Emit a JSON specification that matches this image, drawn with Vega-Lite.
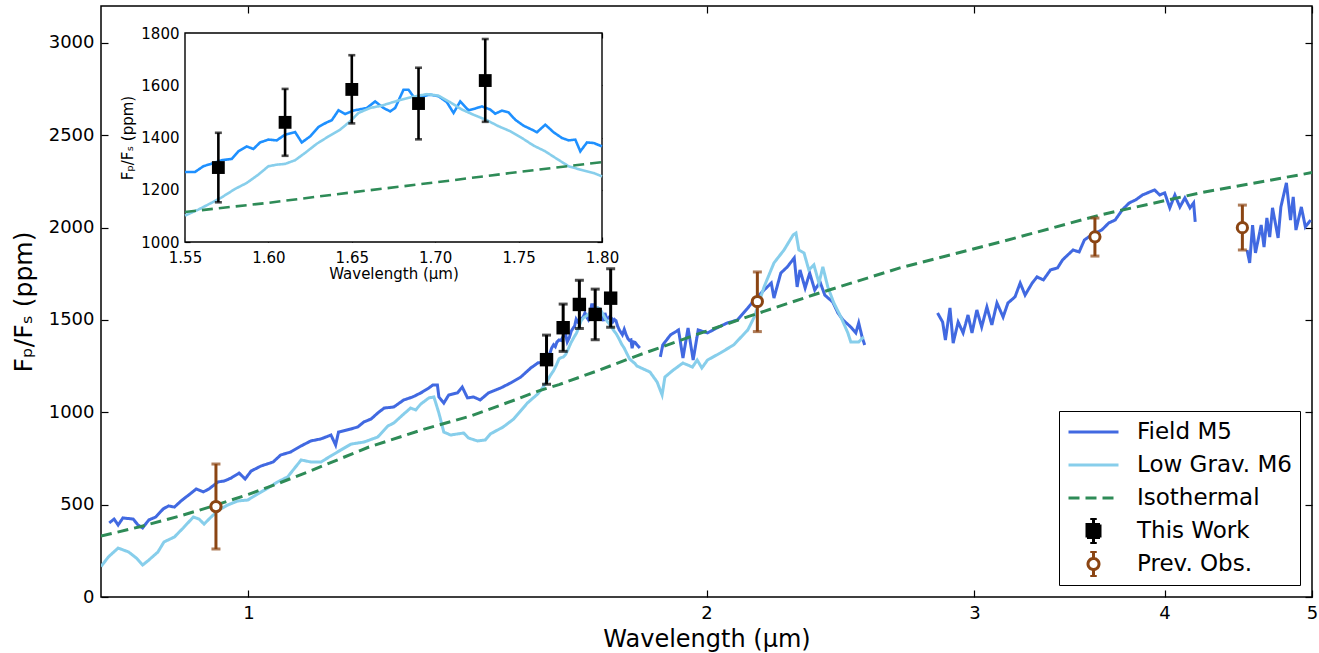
{
  "$schema": "https://vega.github.io/schema/vega-lite/v6.json",
  "width": 1211,
  "height": 591,
  "autosize": {"type": "none"},
  "padding": {"left": 101, "top": 6, "right": 7, "bottom": 56},
  "background": "white",
  "datasets": {
    "models": [
      {"series":"Field M5","seg":"f1","wl":0.810,"fp":401},{"series":"Field M5","seg":"f1","wl":0.816,"fp":422},{"series":"Field M5","seg":"f1","wl":0.821,"fp":390},{"series":"Field M5","seg":"f1","wl":0.827,"fp":428},{"series":"Field M5","seg":"f1","wl":0.840,"fp":422},{"series":"Field M5","seg":"f1","wl":0.846,"fp":390},{"series":"Field M5","seg":"f1","wl":0.852,"fp":374},{"series":"Field M5","seg":"f1","wl":0.860,"fp":417},{"series":"Field M5","seg":"f1","wl":0.869,"fp":433},{"series":"Field M5","seg":"f1","wl":0.879,"fp":477},{"series":"Field M5","seg":"f1","wl":0.886,"fp":493},{"series":"Field M5","seg":"f1","wl":0.894,"fp":487},{"series":"Field M5","seg":"f1","wl":0.903,"fp":520},{"series":"Field M5","seg":"f1","wl":0.917,"fp":563},{"series":"Field M5","seg":"f1","wl":0.924,"fp":585},{"series":"Field M5","seg":"f1","wl":0.934,"fp":569},{"series":"Field M5","seg":"f1","wl":0.942,"fp":585},{"series":"Field M5","seg":"f1","wl":0.955,"fp":623},{"series":"Field M5","seg":"f1","wl":0.964,"fp":628},{"series":"Field M5","seg":"f1","wl":0.974,"fp":644},{"series":"Field M5","seg":"f1","wl":0.986,"fp":671},{"series":"Field M5","seg":"f1","wl":0.995,"fp":639},{"series":"Field M5","seg":"f1","wl":1.004,"fp":682},{"series":"Field M5","seg":"f1","wl":1.019,"fp":709},{"series":"Field M5","seg":"f1","wl":1.038,"fp":731},{"series":"Field M5","seg":"f1","wl":1.050,"fp":769},{"series":"Field M5","seg":"f1","wl":1.066,"fp":785},{"series":"Field M5","seg":"f1","wl":1.083,"fp":818},{"series":"Field M5","seg":"f1","wl":1.099,"fp":845},{"series":"Field M5","seg":"f1","wl":1.116,"fp":856},{"series":"Field M5","seg":"f1","wl":1.133,"fp":877},{"series":"Field M5","seg":"f1","wl":1.141,"fp":823},{"series":"Field M5","seg":"f1","wl":1.146,"fp":893},{"series":"Field M5","seg":"f1","wl":1.168,"fp":910},{"series":"Field M5","seg":"f1","wl":1.180,"fp":921},{"series":"Field M5","seg":"f1","wl":1.191,"fp":948},{"series":"Field M5","seg":"f1","wl":1.204,"fp":964},{"series":"Field M5","seg":"f1","wl":1.216,"fp":996},{"series":"Field M5","seg":"f1","wl":1.228,"fp":1023},{"series":"Field M5","seg":"f1","wl":1.246,"fp":1029},{"series":"Field M5","seg":"f1","wl":1.265,"fp":1067},{"series":"Field M5","seg":"f1","wl":1.282,"fp":1083},{"series":"Field M5","seg":"f1","wl":1.298,"fp":1105},{"series":"Field M5","seg":"f1","wl":1.314,"fp":1132},{"series":"Field M5","seg":"f1","wl":1.322,"fp":1148},{"series":"Field M5","seg":"f1","wl":1.331,"fp":1148},{"series":"Field M5","seg":"f1","wl":1.334,"fp":1083},{"series":"Field M5","seg":"f1","wl":1.344,"fp":1050},{"series":"Field M5","seg":"f1","wl":1.354,"fp":1094},{"series":"Field M5","seg":"f1","wl":1.372,"fp":1105},{"series":"Field M5","seg":"f1","wl":1.382,"fp":1137},{"series":"Field M5","seg":"f1","wl":1.393,"fp":1078},{"series":"Field M5","seg":"f1","wl":1.406,"fp":1083},{"series":"Field M5","seg":"f1","wl":1.420,"fp":1067},{"series":"Field M5","seg":"f1","wl":1.438,"fp":1105},{"series":"Field M5","seg":"f1","wl":1.465,"fp":1132},{"series":"Field M5","seg":"f1","wl":1.487,"fp":1159},{"series":"Field M5","seg":"f1","wl":1.510,"fp":1191},{"series":"Field M5","seg":"f1","wl":1.533,"fp":1240},
      {"series":"Field M5","seg":"f1","wl":1.550,"fp":1268},{"series":"Field M5","seg":"f1","wl":1.556,"fp":1268},{"series":"Field M5","seg":"f1","wl":1.561,"fp":1290},{"series":"Field M5","seg":"f1","wl":1.567,"fp":1302},{"series":"Field M5","seg":"f1","wl":1.572,"fp":1313},{"series":"Field M5","seg":"f1","wl":1.578,"fp":1318},{"series":"Field M5","seg":"f1","wl":1.582,"fp":1347},{"series":"Field M5","seg":"f1","wl":1.587,"fp":1366},{"series":"Field M5","seg":"f1","wl":1.591,"fp":1356},{"series":"Field M5","seg":"f1","wl":1.595,"fp":1381},{"series":"Field M5","seg":"f1","wl":1.600,"fp":1392},{"series":"Field M5","seg":"f1","wl":1.605,"fp":1389},{"series":"Field M5","seg":"f1","wl":1.610,"fp":1411},{"series":"Field M5","seg":"f1","wl":1.616,"fp":1421},{"series":"Field M5","seg":"f1","wl":1.620,"fp":1381},{"series":"Field M5","seg":"f1","wl":1.625,"fp":1404},{"series":"Field M5","seg":"f1","wl":1.630,"fp":1440},{"series":"Field M5","seg":"f1","wl":1.635,"fp":1458},{"series":"Field M5","seg":"f1","wl":1.638,"fp":1466},{"series":"Field M5","seg":"f1","wl":1.642,"fp":1504},{"series":"Field M5","seg":"f1","wl":1.646,"fp":1490},{"series":"Field M5","seg":"f1","wl":1.651,"fp":1503},{"series":"Field M5","seg":"f1","wl":1.659,"fp":1513},{"series":"Field M5","seg":"f1","wl":1.664,"fp":1538},{"series":"Field M5","seg":"f1","wl":1.669,"fp":1513},{"series":"Field M5","seg":"f1","wl":1.673,"fp":1500},{"series":"Field M5","seg":"f1","wl":1.676,"fp":1513},{"series":"Field M5","seg":"f1","wl":1.681,"fp":1583},{"series":"Field M5","seg":"f1","wl":1.684,"fp":1583},{"series":"Field M5","seg":"f1","wl":1.688,"fp":1547},{"series":"Field M5","seg":"f1","wl":1.693,"fp":1558},{"series":"Field M5","seg":"f1","wl":1.697,"fp":1564},{"series":"Field M5","seg":"f1","wl":1.702,"fp":1558},{"series":"Field M5","seg":"f1","wl":1.707,"fp":1535},{"series":"Field M5","seg":"f1","wl":1.711,"fp":1494},{"series":"Field M5","seg":"f1","wl":1.715,"fp":1538},{"series":"Field M5","seg":"f1","wl":1.720,"fp":1504},{"series":"Field M5","seg":"f1","wl":1.725,"fp":1513},{"series":"Field M5","seg":"f1","wl":1.728,"fp":1519},{"series":"Field M5","seg":"f1","wl":1.733,"fp":1507},{"series":"Field M5","seg":"f1","wl":1.736,"fp":1491},{"series":"Field M5","seg":"f1","wl":1.740,"fp":1503},{"series":"Field M5","seg":"f1","wl":1.744,"fp":1496},{"series":"Field M5","seg":"f1","wl":1.748,"fp":1468},{"series":"Field M5","seg":"f1","wl":1.753,"fp":1445},{"series":"Field M5","seg":"f1","wl":1.758,"fp":1430},{"series":"Field M5","seg":"f1","wl":1.761,"fp":1420},{"series":"Field M5","seg":"f1","wl":1.766,"fp":1449},{"series":"Field M5","seg":"f1","wl":1.771,"fp":1420},{"series":"Field M5","seg":"f1","wl":1.776,"fp":1398},{"series":"Field M5","seg":"f1","wl":1.780,"fp":1389},{"series":"Field M5","seg":"f1","wl":1.784,"fp":1392},{"series":"Field M5","seg":"f1","wl":1.787,"fp":1347},{"series":"Field M5","seg":"f1","wl":1.791,"fp":1381},{"series":"Field M5","seg":"f1","wl":1.795,"fp":1379},{"series":"Field M5","seg":"f1","wl":1.800,"fp":1366},{"series":"Field M5","seg":"f1","wl":1.808,"fp":1348},
      {"series":"Field M5","seg":"f2","wl":1.865,"fp":1300},{"series":"Field M5","seg":"f2","wl":1.872,"fp":1365},{"series":"Field M5","seg":"f2","wl":1.894,"fp":1419},{"series":"Field M5","seg":"f2","wl":1.917,"fp":1446},{"series":"Field M5","seg":"f2","wl":1.930,"fp":1294},{"series":"Field M5","seg":"f2","wl":1.945,"fp":1457},{"series":"Field M5","seg":"f2","wl":1.960,"fp":1283},{"series":"Field M5","seg":"f2","wl":1.975,"fp":1446},{"series":"Field M5","seg":"f2","wl":2.003,"fp":1430},{"series":"Field M5","seg":"f2","wl":2.032,"fp":1457},{"series":"Field M5","seg":"f2","wl":2.064,"fp":1484},{"series":"Field M5","seg":"f2","wl":2.096,"fp":1500},{"series":"Field M5","seg":"f2","wl":2.129,"fp":1565},{"series":"Field M5","seg":"f2","wl":2.150,"fp":1608},{"series":"Field M5","seg":"f2","wl":2.182,"fp":1662},{"series":"Field M5","seg":"f2","wl":2.206,"fp":1700},{"series":"Field M5","seg":"f2","wl":2.215,"fp":1619},{"series":"Field M5","seg":"f2","wl":2.238,"fp":1754},{"series":"Field M5","seg":"f2","wl":2.260,"fp":1787},{"series":"Field M5","seg":"f2","wl":2.284,"fp":1836},{"series":"Field M5","seg":"f2","wl":2.294,"fp":1679},{"series":"Field M5","seg":"f2","wl":2.304,"fp":1771},{"series":"Field M5","seg":"f2","wl":2.322,"fp":1673},{"series":"Field M5","seg":"f2","wl":2.338,"fp":1754},{"series":"Field M5","seg":"f2","wl":2.356,"fp":1662},{"series":"Field M5","seg":"f2","wl":2.375,"fp":1706},{"series":"Field M5","seg":"f2","wl":2.392,"fp":1635},{"series":"Field M5","seg":"f2","wl":2.421,"fp":1597},{"series":"Field M5","seg":"f2","wl":2.440,"fp":1538},{"series":"Field M5","seg":"f2","wl":2.459,"fp":1500},{"series":"Field M5","seg":"f2","wl":2.488,"fp":1462},{"series":"Field M5","seg":"f2","wl":2.507,"fp":1430},{"series":"Field M5","seg":"f2","wl":2.518,"fp":1484},{"series":"Field M5","seg":"f2","wl":2.532,"fp":1402},{"series":"Field M5","seg":"f2","wl":2.541,"fp":1365},
      {"series":"Field M5","seg":"f3","wl":2.837,"fp":1538},{"series":"Field M5","seg":"f3","wl":2.859,"fp":1489},{"series":"Field M5","seg":"f3","wl":2.871,"fp":1392},{"series":"Field M5","seg":"f3","wl":2.891,"fp":1565},{"series":"Field M5","seg":"f3","wl":2.905,"fp":1375},{"series":"Field M5","seg":"f3","wl":2.927,"fp":1489},{"series":"Field M5","seg":"f3","wl":2.949,"fp":1430},{"series":"Field M5","seg":"f3","wl":2.971,"fp":1527},{"series":"Field M5","seg":"f3","wl":2.989,"fp":1430},{"series":"Field M5","seg":"f3","wl":3.011,"fp":1554},{"series":"Field M5","seg":"f3","wl":3.033,"fp":1462},{"series":"Field M5","seg":"f3","wl":3.057,"fp":1570},{"series":"Field M5","seg":"f3","wl":3.080,"fp":1473},{"series":"Field M5","seg":"f3","wl":3.104,"fp":1592},{"series":"Field M5","seg":"f3","wl":3.133,"fp":1516},{"series":"Field M5","seg":"f3","wl":3.156,"fp":1592},{"series":"Field M5","seg":"f3","wl":3.190,"fp":1625},{"series":"Field M5","seg":"f3","wl":3.215,"fp":1700},{"series":"Field M5","seg":"f3","wl":3.239,"fp":1635},{"series":"Field M5","seg":"f3","wl":3.274,"fp":1700},{"series":"Field M5","seg":"f3","wl":3.298,"fp":1733},{"series":"Field M5","seg":"f3","wl":3.330,"fp":1717},{"series":"Field M5","seg":"f3","wl":3.366,"fp":1771},{"series":"Field M5","seg":"f3","wl":3.402,"fp":1782},{"series":"Field M5","seg":"f3","wl":3.428,"fp":1825},{"series":"Field M5","seg":"f3","wl":3.455,"fp":1852},{"series":"Field M5","seg":"f3","wl":3.483,"fp":1879},{"series":"Field M5","seg":"f3","wl":3.515,"fp":1868},{"series":"Field M5","seg":"f3","wl":3.543,"fp":1933},{"series":"Field M5","seg":"f3","wl":3.581,"fp":1960},{"series":"Field M5","seg":"f3","wl":3.637,"fp":1987},{"series":"Field M5","seg":"f3","wl":3.676,"fp":2025},{"series":"Field M5","seg":"f3","wl":3.712,"fp":2041},{"series":"Field M5","seg":"f3","wl":3.752,"fp":2096},{"series":"Field M5","seg":"f3","wl":3.792,"fp":2134},{"series":"Field M5","seg":"f3","wl":3.829,"fp":2150},{"series":"Field M5","seg":"f3","wl":3.869,"fp":2177},{"series":"Field M5","seg":"f3","wl":3.911,"fp":2193},{"series":"Field M5","seg":"f3","wl":3.940,"fp":2204},{"series":"Field M5","seg":"f3","wl":3.971,"fp":2177},{"series":"Field M5","seg":"f3","wl":4.001,"fp":2188},{"series":"Field M5","seg":"f3","wl":4.032,"fp":2107},{"series":"Field M5","seg":"f3","wl":4.063,"fp":2177},{"series":"Field M5","seg":"f3","wl":4.094,"fp":2112},{"series":"Field M5","seg":"f3","wl":4.125,"fp":2161},{"series":"Field M5","seg":"f3","wl":4.157,"fp":2107},{"series":"Field M5","seg":"f3","wl":4.180,"fp":2134},{"series":"Field M5","seg":"f3","wl":4.190,"fp":2031},
      {"series":"Field M5","seg":"f4","wl":4.532,"fp":1879},{"series":"Field M5","seg":"f4","wl":4.550,"fp":1809},{"series":"Field M5","seg":"f4","wl":4.570,"fp":2014},{"series":"Field M5","seg":"f4","wl":4.590,"fp":1863},{"series":"Field M5","seg":"f4","wl":4.630,"fp":2014},{"series":"Field M5","seg":"f4","wl":4.650,"fp":1895},{"series":"Field M5","seg":"f4","wl":4.670,"fp":2052},{"series":"Field M5","seg":"f4","wl":4.690,"fp":1949},{"series":"Field M5","seg":"f4","wl":4.710,"fp":2107},{"series":"Field M5","seg":"f4","wl":4.750,"fp":1944},{"series":"Field M5","seg":"f4","wl":4.770,"fp":2112},{"series":"Field M5","seg":"f4","wl":4.810,"fp":2242},{"series":"Field M5","seg":"f4","wl":4.840,"fp":2041},{"series":"Field M5","seg":"f4","wl":4.860,"fp":2166},{"series":"Field M5","seg":"f4","wl":4.880,"fp":1987},{"series":"Field M5","seg":"f4","wl":4.920,"fp":2112},{"series":"Field M5","seg":"f4","wl":4.950,"fp":2004},{"series":"Field M5","seg":"f4","wl":4.990,"fp":2041},
      {"series":"Low Grav. M6","seg":"lg","wl":0.800,"fp":165},{"series":"Low Grav. M6","seg":"lg","wl":0.809,"fp":217},{"series":"Low Grav. M6","seg":"lg","wl":0.821,"fp":265},{"series":"Low Grav. M6","seg":"lg","wl":0.834,"fp":244},{"series":"Low Grav. M6","seg":"lg","wl":0.844,"fp":211},{"series":"Low Grav. M6","seg":"lg","wl":0.852,"fp":173},{"series":"Low Grav. M6","seg":"lg","wl":0.860,"fp":200},{"series":"Low Grav. M6","seg":"lg","wl":0.872,"fp":244},{"series":"Low Grav. M6","seg":"lg","wl":0.880,"fp":298},{"series":"Low Grav. M6","seg":"lg","wl":0.894,"fp":325},{"series":"Low Grav. M6","seg":"lg","wl":0.906,"fp":374},{"series":"Low Grav. M6","seg":"lg","wl":0.920,"fp":433},{"series":"Low Grav. M6","seg":"lg","wl":0.928,"fp":422},{"series":"Low Grav. M6","seg":"lg","wl":0.935,"fp":395},{"series":"Low Grav. M6","seg":"lg","wl":0.945,"fp":433},{"series":"Low Grav. M6","seg":"lg","wl":0.956,"fp":471},{"series":"Low Grav. M6","seg":"lg","wl":0.969,"fp":498},{"series":"Low Grav. M6","seg":"lg","wl":0.984,"fp":520},{"series":"Low Grav. M6","seg":"lg","wl":0.999,"fp":525},{"series":"Low Grav. M6","seg":"lg","wl":1.014,"fp":558},{"series":"Low Grav. M6","seg":"lg","wl":1.030,"fp":590},{"series":"Low Grav. M6","seg":"lg","wl":1.045,"fp":623},{"series":"Low Grav. M6","seg":"lg","wl":1.061,"fp":650},{"series":"Low Grav. M6","seg":"lg","wl":1.083,"fp":742},{"series":"Low Grav. M6","seg":"lg","wl":1.099,"fp":731},{"series":"Low Grav. M6","seg":"lg","wl":1.116,"fp":731},{"series":"Low Grav. M6","seg":"lg","wl":1.133,"fp":764},{"series":"Low Grav. M6","seg":"lg","wl":1.150,"fp":796},{"series":"Low Grav. M6","seg":"lg","wl":1.168,"fp":828},{"series":"Low Grav. M6","seg":"lg","wl":1.191,"fp":839},{"series":"Low Grav. M6","seg":"lg","wl":1.216,"fp":866},{"series":"Low Grav. M6","seg":"lg","wl":1.235,"fp":926},{"series":"Low Grav. M6","seg":"lg","wl":1.246,"fp":942},{"series":"Low Grav. M6","seg":"lg","wl":1.263,"fp":986},{"series":"Low Grav. M6","seg":"lg","wl":1.278,"fp":1023},{"series":"Low Grav. M6","seg":"lg","wl":1.288,"fp":1013},{"series":"Low Grav. M6","seg":"lg","wl":1.298,"fp":1045},{"series":"Low Grav. M6","seg":"lg","wl":1.314,"fp":1078},{"series":"Low Grav. M6","seg":"lg","wl":1.324,"fp":1083},{"series":"Low Grav. M6","seg":"lg","wl":1.334,"fp":996},{"series":"Low Grav. M6","seg":"lg","wl":1.344,"fp":893},{"series":"Low Grav. M6","seg":"lg","wl":1.358,"fp":877},{"series":"Low Grav. M6","seg":"lg","wl":1.372,"fp":883},{"series":"Low Grav. M6","seg":"lg","wl":1.385,"fp":888},{"series":"Low Grav. M6","seg":"lg","wl":1.395,"fp":861},{"series":"Low Grav. M6","seg":"lg","wl":1.414,"fp":845},{"series":"Low Grav. M6","seg":"lg","wl":1.431,"fp":850},{"series":"Low Grav. M6","seg":"lg","wl":1.442,"fp":883},{"series":"Low Grav. M6","seg":"lg","wl":1.470,"fp":920},{"series":"Low Grav. M6","seg":"lg","wl":1.494,"fp":964},{"series":"Low Grav. M6","seg":"lg","wl":1.525,"fp":1050},
      {"series":"Low Grav. M6","seg":"lg","wl":1.550,"fp":1101},{"series":"Low Grav. M6","seg":"lg","wl":1.558,"fp":1124},{"series":"Low Grav. M6","seg":"lg","wl":1.565,"fp":1147},{"series":"Low Grav. M6","seg":"lg","wl":1.572,"fp":1171},{"series":"Low Grav. M6","seg":"lg","wl":1.580,"fp":1203},{"series":"Low Grav. M6","seg":"lg","wl":1.587,"fp":1226},{"series":"Low Grav. M6","seg":"lg","wl":1.594,"fp":1258},{"series":"Low Grav. M6","seg":"lg","wl":1.600,"fp":1290},{"series":"Low Grav. M6","seg":"lg","wl":1.605,"fp":1296},{"series":"Low Grav. M6","seg":"lg","wl":1.610,"fp":1299},{"series":"Low Grav. M6","seg":"lg","wl":1.616,"fp":1313},{"series":"Low Grav. M6","seg":"lg","wl":1.622,"fp":1341},{"series":"Low Grav. M6","seg":"lg","wl":1.629,"fp":1376},{"series":"Low Grav. M6","seg":"lg","wl":1.636,"fp":1404},{"series":"Low Grav. M6","seg":"lg","wl":1.643,"fp":1430},{"series":"Low Grav. M6","seg":"lg","wl":1.649,"fp":1462},{"series":"Low Grav. M6","seg":"lg","wl":1.654,"fp":1494},{"series":"Low Grav. M6","seg":"lg","wl":1.661,"fp":1513},{"series":"Low Grav. M6","seg":"lg","wl":1.668,"fp":1522},{"series":"Low Grav. M6","seg":"lg","wl":1.676,"fp":1538},{"series":"Low Grav. M6","seg":"lg","wl":1.686,"fp":1555},{"series":"Low Grav. M6","seg":"lg","wl":1.695,"fp":1566},{"series":"Low Grav. M6","seg":"lg","wl":1.702,"fp":1560},{"series":"Low Grav. M6","seg":"lg","wl":1.709,"fp":1535},{"series":"Low Grav. M6","seg":"lg","wl":1.716,"fp":1507},{"series":"Low Grav. M6","seg":"lg","wl":1.723,"fp":1487},{"series":"Low Grav. M6","seg":"lg","wl":1.731,"fp":1466},{"series":"Low Grav. M6","seg":"lg","wl":1.738,"fp":1443},{"series":"Low Grav. M6","seg":"lg","wl":1.745,"fp":1424},{"series":"Low Grav. M6","seg":"lg","wl":1.752,"fp":1398},{"series":"Low Grav. M6","seg":"lg","wl":1.759,"fp":1369},{"series":"Low Grav. M6","seg":"lg","wl":1.766,"fp":1347},{"series":"Low Grav. M6","seg":"lg","wl":1.773,"fp":1318},{"series":"Low Grav. M6","seg":"lg","wl":1.780,"fp":1290},{"series":"Low Grav. M6","seg":"lg","wl":1.787,"fp":1277},{"series":"Low Grav. M6","seg":"lg","wl":1.795,"fp":1264},{"series":"Low Grav. M6","seg":"lg","wl":1.800,"fp":1251},
      {"series":"Low Grav. M6","seg":"lg","wl":1.836,"fp":1218},{"series":"Low Grav. M6","seg":"lg","wl":1.856,"fp":1164},{"series":"Low Grav. M6","seg":"lg","wl":1.870,"fp":1094},{"series":"Low Grav. M6","seg":"lg","wl":1.878,"fp":1191},{"series":"Low Grav. M6","seg":"lg","wl":1.902,"fp":1229},{"series":"Low Grav. M6","seg":"lg","wl":1.930,"fp":1267},{"series":"Low Grav. M6","seg":"lg","wl":1.958,"fp":1245},{"series":"Low Grav. M6","seg":"lg","wl":1.972,"fp":1283},{"series":"Low Grav. M6","seg":"lg","wl":1.986,"fp":1240},{"series":"Low Grav. M6","seg":"lg","wl":2.003,"fp":1283},{"series":"Low Grav. M6","seg":"lg","wl":2.042,"fp":1321},{"series":"Low Grav. M6","seg":"lg","wl":2.084,"fp":1365},{"series":"Low Grav. M6","seg":"lg","wl":2.129,"fp":1446},{"series":"Low Grav. M6","seg":"lg","wl":2.150,"fp":1516},{"series":"Low Grav. M6","seg":"lg","wl":2.182,"fp":1679},{"series":"Low Grav. M6","seg":"lg","wl":2.215,"fp":1809},{"series":"Low Grav. M6","seg":"lg","wl":2.249,"fp":1879},{"series":"Low Grav. M6","seg":"lg","wl":2.280,"fp":1960},{"series":"Low Grav. M6","seg":"lg","wl":2.290,"fp":1971},{"series":"Low Grav. M6","seg":"lg","wl":2.300,"fp":1879},{"series":"Low Grav. M6","seg":"lg","wl":2.318,"fp":1863},{"series":"Low Grav. M6","seg":"lg","wl":2.335,"fp":1771},{"series":"Low Grav. M6","seg":"lg","wl":2.353,"fp":1798},{"series":"Low Grav. M6","seg":"lg","wl":2.371,"fp":1700},{"series":"Low Grav. M6","seg":"lg","wl":2.385,"fp":1787},{"series":"Low Grav. M6","seg":"lg","wl":2.403,"fp":1679},{"series":"Low Grav. M6","seg":"lg","wl":2.425,"fp":1592},{"series":"Low Grav. M6","seg":"lg","wl":2.451,"fp":1516},{"series":"Low Grav. M6","seg":"lg","wl":2.477,"fp":1430},{"series":"Low Grav. M6","seg":"lg","wl":2.488,"fp":1381},{"series":"Low Grav. M6","seg":"lg","wl":2.518,"fp":1381},{"series":"Low Grav. M6","seg":"lg","wl":2.537,"fp":1408},
      {"series":"Isothermal","seg":"iso","wl":0.80,"fp":330},{"series":"Isothermal","seg":"iso","wl":0.85,"fp":382},{"series":"Isothermal","seg":"iso","wl":0.90,"fp":437},{"series":"Isothermal","seg":"iso","wl":0.95,"fp":495},{"series":"Isothermal","seg":"iso","wl":1.00,"fp":556},{"series":"Isothermal","seg":"iso","wl":1.05,"fp":620},{"series":"Isothermal","seg":"iso","wl":1.10,"fp":685},{"series":"Isothermal","seg":"iso","wl":1.15,"fp":750},{"series":"Isothermal","seg":"iso","wl":1.20,"fp":812},{"series":"Isothermal","seg":"iso","wl":1.30,"fp":905},{"series":"Isothermal","seg":"iso","wl":1.40,"fp":980},{"series":"Isothermal","seg":"iso","wl":1.50,"fp":1070},{"series":"Isothermal","seg":"iso","wl":1.55,"fp":1115},{"series":"Isothermal","seg":"iso","wl":1.60,"fp":1150},{"series":"Isothermal","seg":"iso","wl":1.70,"fp":1228},{"series":"Isothermal","seg":"iso","wl":1.80,"fp":1306},{"series":"Isothermal","seg":"iso","wl":1.90,"fp":1375},{"series":"Isothermal","seg":"iso","wl":2.00,"fp":1440},{"series":"Isothermal","seg":"iso","wl":2.13,"fp":1518},{"series":"Isothermal","seg":"iso","wl":2.35,"fp":1635},{"series":"Isothermal","seg":"iso","wl":2.68,"fp":1782},{"series":"Isothermal","seg":"iso","wl":3.12,"fp":1922},{"series":"Isothermal","seg":"iso","wl":3.63,"fp":2069},{"series":"Isothermal","seg":"iso","wl":4.22,"fp":2188},{"series":"Isothermal","seg":"iso","wl":5.00,"fp":2298}
    ],
    "inset": [
      {"series":"Field M5","wl":1.550,"fp":1268},{"series":"Field M5","wl":1.556,"fp":1268},{"series":"Field M5","wl":1.561,"fp":1290},{"series":"Field M5","wl":1.567,"fp":1302},{"series":"Field M5","wl":1.572,"fp":1313},{"series":"Field M5","wl":1.578,"fp":1318},{"series":"Field M5","wl":1.582,"fp":1347},{"series":"Field M5","wl":1.587,"fp":1366},{"series":"Field M5","wl":1.591,"fp":1356},{"series":"Field M5","wl":1.595,"fp":1381},{"series":"Field M5","wl":1.600,"fp":1392},{"series":"Field M5","wl":1.605,"fp":1389},{"series":"Field M5","wl":1.610,"fp":1411},{"series":"Field M5","wl":1.616,"fp":1421},{"series":"Field M5","wl":1.620,"fp":1381},{"series":"Field M5","wl":1.625,"fp":1404},{"series":"Field M5","wl":1.630,"fp":1440},{"series":"Field M5","wl":1.635,"fp":1458},{"series":"Field M5","wl":1.638,"fp":1466},{"series":"Field M5","wl":1.642,"fp":1504},{"series":"Field M5","wl":1.646,"fp":1490},{"series":"Field M5","wl":1.651,"fp":1503},{"series":"Field M5","wl":1.659,"fp":1513},{"series":"Field M5","wl":1.664,"fp":1538},{"series":"Field M5","wl":1.669,"fp":1513},{"series":"Field M5","wl":1.673,"fp":1500},{"series":"Field M5","wl":1.676,"fp":1513},{"series":"Field M5","wl":1.681,"fp":1583},{"series":"Field M5","wl":1.684,"fp":1583},{"series":"Field M5","wl":1.688,"fp":1547},{"series":"Field M5","wl":1.693,"fp":1558},{"series":"Field M5","wl":1.697,"fp":1564},{"series":"Field M5","wl":1.702,"fp":1558},{"series":"Field M5","wl":1.707,"fp":1535},{"series":"Field M5","wl":1.711,"fp":1494},{"series":"Field M5","wl":1.715,"fp":1538},{"series":"Field M5","wl":1.720,"fp":1504},{"series":"Field M5","wl":1.725,"fp":1513},{"series":"Field M5","wl":1.728,"fp":1519},{"series":"Field M5","wl":1.733,"fp":1507},{"series":"Field M5","wl":1.736,"fp":1491},{"series":"Field M5","wl":1.740,"fp":1503},{"series":"Field M5","wl":1.744,"fp":1496},{"series":"Field M5","wl":1.748,"fp":1468},{"series":"Field M5","wl":1.753,"fp":1445},{"series":"Field M5","wl":1.758,"fp":1430},{"series":"Field M5","wl":1.761,"fp":1420},{"series":"Field M5","wl":1.766,"fp":1449},{"series":"Field M5","wl":1.771,"fp":1420},{"series":"Field M5","wl":1.776,"fp":1398},{"series":"Field M5","wl":1.780,"fp":1389},{"series":"Field M5","wl":1.784,"fp":1392},{"series":"Field M5","wl":1.787,"fp":1347},{"series":"Field M5","wl":1.791,"fp":1381},{"series":"Field M5","wl":1.795,"fp":1379},{"series":"Field M5","wl":1.800,"fp":1366},
      {"series":"Low Grav. M6","wl":1.550,"fp":1101},{"series":"Low Grav. M6","wl":1.558,"fp":1124},{"series":"Low Grav. M6","wl":1.565,"fp":1147},{"series":"Low Grav. M6","wl":1.572,"fp":1171},{"series":"Low Grav. M6","wl":1.580,"fp":1203},{"series":"Low Grav. M6","wl":1.587,"fp":1226},{"series":"Low Grav. M6","wl":1.594,"fp":1258},{"series":"Low Grav. M6","wl":1.600,"fp":1290},{"series":"Low Grav. M6","wl":1.605,"fp":1296},{"series":"Low Grav. M6","wl":1.610,"fp":1299},{"series":"Low Grav. M6","wl":1.616,"fp":1313},{"series":"Low Grav. M6","wl":1.622,"fp":1341},{"series":"Low Grav. M6","wl":1.629,"fp":1376},{"series":"Low Grav. M6","wl":1.636,"fp":1404},{"series":"Low Grav. M6","wl":1.643,"fp":1430},{"series":"Low Grav. M6","wl":1.649,"fp":1462},{"series":"Low Grav. M6","wl":1.654,"fp":1494},{"series":"Low Grav. M6","wl":1.661,"fp":1513},{"series":"Low Grav. M6","wl":1.668,"fp":1522},{"series":"Low Grav. M6","wl":1.676,"fp":1538},{"series":"Low Grav. M6","wl":1.686,"fp":1555},{"series":"Low Grav. M6","wl":1.695,"fp":1566},{"series":"Low Grav. M6","wl":1.702,"fp":1560},{"series":"Low Grav. M6","wl":1.709,"fp":1535},{"series":"Low Grav. M6","wl":1.716,"fp":1507},{"series":"Low Grav. M6","wl":1.723,"fp":1487},{"series":"Low Grav. M6","wl":1.731,"fp":1466},{"series":"Low Grav. M6","wl":1.738,"fp":1443},{"series":"Low Grav. M6","wl":1.745,"fp":1424},{"series":"Low Grav. M6","wl":1.752,"fp":1398},{"series":"Low Grav. M6","wl":1.759,"fp":1369},{"series":"Low Grav. M6","wl":1.766,"fp":1347},{"series":"Low Grav. M6","wl":1.773,"fp":1318},{"series":"Low Grav. M6","wl":1.780,"fp":1290},{"series":"Low Grav. M6","wl":1.787,"fp":1277},{"series":"Low Grav. M6","wl":1.795,"fp":1264},{"series":"Low Grav. M6","wl":1.800,"fp":1251},
      {"series":"Isothermal","wl":1.55,"fp":1115},{"series":"Isothermal","wl":1.60,"fp":1150},{"series":"Isothermal","wl":1.65,"fp":1190},{"series":"Isothermal","wl":1.70,"fp":1228},{"series":"Isothermal","wl":1.75,"fp":1268},{"series":"Isothermal","wl":1.80,"fp":1306}
    ],
    "work": [
      {"wl":1.57,"fp":1285,"lo":1152,"hi":1418},
      {"wl":1.61,"fp":1458,"lo":1330,"hi":1586},
      {"wl":1.65,"fp":1584,"lo":1454,"hi":1715},
      {"wl":1.69,"fp":1530,"lo":1393,"hi":1667},
      {"wl":1.73,"fp":1618,"lo":1460,"hi":1777}
    ],
    "prev": [
      {"wl":0.952,"fp":490,"lo":260,"hi":720},
      {"wl":2.16,"fp":1600,"lo":1437,"hi":1760},
      {"wl":3.6,"fp":1950,"lo":1846,"hi":2052},
      {"wl":4.5,"fp":2000,"lo":1879,"hi":2122}
    ],
    "box": [{"wl":1.55,"wl2":1.80,"fp":1000,"fp2":1800}]
  },
  "layer": [
    {
      "encoding": {
        "x": {"field": "wl", "type": "quantitative", "scale": {"type": "log", "domain": [0.8, 5], "nice": false},
              "axis": {"orient": "bottom", "values": [1, 2, 3, 4, 5], "format": "d", "title": "Wavelength (μm)", "tickSize": -7, "labelPadding": 14, "labelFontSize": 18, "titleFontSize": 24, "titlePadding": 5}},
        "y": {"field": "fp", "type": "quantitative", "scale": {"domain": [0, 3200], "nice": false},
              "axis": {"orient": "left", "values": [0, 500, 1000, 1500, 2000, 2500, 3000], "format": "d", "title": "Fₚ/Fₛ (ppm)", "tickSize": -7, "labelPadding": 14, "labelFontSize": 18, "titleFontSize": 25, "titlePadding": 12}}
      },
      "layer": [
        {
          "data": {"name": "models"},
          "transform": [{"filter": "false"}],
          "mark": {"type": "point", "filled": true, "opacity": 1},
          "encoding": {
            "shape": {"field": "series", "type": "nominal",
              "scale": {"domain": ["Field M5", "Low Grav. M6", "Isothermal", "This Work", "Prev. Obs."],
                        "range": ["M-1,0H1", "M-1,0H1", "M-1,0H1",
                                  "M-0.26,-0.26H0.26V0.26H-0.26Z M0,-0.5V0.5 M-0.13,-0.5H0.13 M-0.13,0.5H0.13",
                                  "M0.22,0A0.22,0.22,0,1,1,-0.22,0A0.22,0.22,0,1,1,0.22,0Z M0,-0.5V-0.22 M0,0.22V0.5 M-0.13,-0.5H0.13 M-0.13,0.5H0.13"]},
              "legend": {"title": null, "orient": "bottom-right", "symbolOpacity": 1}},
            "fill": {"field": "series", "type": "nominal",
              "scale": {"domain": ["Field M5", "Low Grav. M6", "Isothermal", "This Work", "Prev. Obs."],
                        "range": ["transparent", "transparent", "transparent", "#000000", "#ffffff"]},
              "legend": {"title": null, "orient": "bottom-right", "symbolOpacity": 1}}
          }
        },
        {
          "data": {"name": "models"},
          "mark": {"type": "line", "strokeWidth": 3, "clip": true},
          "encoding": {
            "detail": {"field": "seg"},
            "strokeDash": {"field": "series", "type": "nominal",
              "scale": {"domain": ["Field M5", "Low Grav. M6", "Isothermal", "This Work", "Prev. Obs."], "range": [[1, 0], [1, 0], [11, 6], [1, 0], [1, 0]]},
              "legend": {"title": null, "orient": "bottom-right", "symbolOpacity": 1}},
            "color": {"field": "series", "type": "nominal",
              "scale": {"domain": ["Field M5", "Low Grav. M6", "Isothermal", "This Work", "Prev. Obs."], "range": ["#4169E1", "#87CEEB", "#2E8B57", "#000000", "#8B4513"]},
              "legend": {
                "title": null, "orient": "bottom-right", "offset": 12, "padding": 8,
                "strokeColor": "black", "fillColor": "white", "cornerRadius": 0,
                "labelFontSize": 23, "labelFont": "DejaVu Sans", "labelColor": "black", "labelOffset": 17, "labelLimit": 400,
                "symbolSize": 2500, "symbolStrokeWidth": 3, "symbolOpacity": 1, "clipHeight": 26, "rowPadding": 7
              }
            }
          }
        },
        {"data": {"name": "prev"}, "mark": {"type": "rule", "color": "#8B4513", "strokeWidth": 3}, "encoding": {"y": {"field": "lo", "type": "quantitative"}, "y2": {"field": "hi"}}},
        {"data": {"name": "prev"}, "mark": {"type": "tick", "orient": "horizontal", "color": "#8B4513", "size": 9, "thickness": 3}, "encoding": {"y": {"field": "lo", "type": "quantitative"}}},
        {"data": {"name": "prev"}, "mark": {"type": "tick", "orient": "horizontal", "color": "#8B4513", "size": 9, "thickness": 3}, "encoding": {"y": {"field": "hi", "type": "quantitative"}}},
        {"data": {"name": "prev"}, "mark": {"type": "point", "shape": "circle", "filled": false, "fill": "white", "fillOpacity": 1, "stroke": "#8B4513", "strokeWidth": 3, "size": 105, "opacity": 1}},
        {"data": {"name": "work"}, "mark": {"type": "rule", "color": "black", "strokeWidth": 3}, "encoding": {"y": {"field": "lo", "type": "quantitative"}, "y2": {"field": "hi"}}},
        {"data": {"name": "work"}, "mark": {"type": "tick", "orient": "horizontal", "color": "black", "size": 9, "thickness": 3}, "encoding": {"y": {"field": "lo", "type": "quantitative"}}},
        {"data": {"name": "work"}, "mark": {"type": "tick", "orient": "horizontal", "color": "black", "size": 9, "thickness": 3}, "encoding": {"y": {"field": "hi", "type": "quantitative"}}},
        {"data": {"name": "work"}, "mark": {"type": "square", "color": "black", "filled": true, "opacity": 1, "size": 180}}
      ]
    },
    {
      "data": {"name": "prev"},
      "mark": {"type": "point", "opacity": 0},
      "encoding": {
        "x": {"field": "wl", "type": "quantitative", "scale": {"type": "log", "domain": [0.8, 5], "nice": false},
              "axis": {"orient": "top", "values": [1, 2, 3, 4, 5], "labels": false, "title": null, "tickSize": -7}},
        "y": {"field": "fp", "type": "quantitative", "scale": {"domain": [0, 3200], "nice": false},
              "axis": {"orient": "right", "values": [0, 500, 1000, 1500, 2000, 2500, 3000], "labels": false, "title": null, "tickSize": -7}}
      }
    },
    {
      "encoding": {
        "x": {"field": "wl", "type": "quantitative", "scale": {"domain": [1.55, 1.8], "range": [84, 501], "nice": false, "zero": false},
              "axis": {"orient": "bottom", "offset": -355, "values": [1.55, 1.6, 1.65, 1.7, 1.75, 1.8], "format": ".2f", "title": "Wavelength (μm)", "tickSize": -5, "labelPadding": 13, "labelFontSize": 15, "titleFontSize": 15, "titlePadding": 1}},
        "y": {"field": "fp", "type": "quantitative", "scale": {"domain": [1000, 1800], "range": [236, 27], "nice": false, "zero": false},
              "axis": {"orient": "left", "offset": -84, "values": [1000, 1200, 1400, 1600, 1800], "format": "d", "title": "Fₚ/Fₛ (ppm)", "tickSize": -5, "labelPadding": 11, "labelFontSize": 15, "titleFontSize": 15, "titlePadding": 5}}
      },
      "layer": [
        {"data": {"name": "box"}, "mark": {"type": "rect", "fill": "white", "stroke": "black", "strokeWidth": 1.4}, "encoding": {"x2": {"field": "wl2"}, "y2": {"field": "fp2"}}},
        {
          "data": {"name": "inset"},
          "mark": {"type": "line", "strokeWidth": 2.6, "clip": true},
          "encoding": {
            "stroke": {"field": "series", "type": "nominal", "scale": {"domain": ["Field M5", "Low Grav. M6", "Isothermal"], "range": ["#1E90FF", "#87CEEB", "#2E8B57"]}, "legend": null},
            "strokeDash": {"field": "series", "type": "nominal", "scale": {"domain": ["Field M5", "Low Grav. M6", "Isothermal", "This Work", "Prev. Obs."], "range": [[1, 0], [1, 0], [11, 6], [1, 0], [1, 0]]}, "legend": null}
          }
        },
        {"data": {"name": "work"}, "mark": {"type": "rule", "color": "black", "strokeWidth": 2.6}, "encoding": {"y": {"field": "lo", "type": "quantitative"}, "y2": {"field": "hi"}}},
        {"data": {"name": "work"}, "mark": {"type": "tick", "orient": "horizontal", "color": "black", "size": 7, "thickness": 2.6}, "encoding": {"y": {"field": "lo", "type": "quantitative"}}},
        {"data": {"name": "work"}, "mark": {"type": "tick", "orient": "horizontal", "color": "black", "size": 7, "thickness": 2.6}, "encoding": {"y": {"field": "hi", "type": "quantitative"}}},
        {"data": {"name": "work"}, "mark": {"type": "square", "color": "black", "filled": true, "opacity": 1, "size": 165}}
      ]
    },
    {
      "data": {"name": "work"},
      "mark": {"type": "point", "opacity": 0},
      "encoding": {
        "x": {"field": "wl", "type": "quantitative", "scale": {"domain": [1.55, 1.8], "range": [84, 501], "nice": false, "zero": false},
              "axis": {"orient": "top", "offset": -27, "values": [1.55, 1.6, 1.65, 1.7, 1.75, 1.8], "labels": false, "title": null, "tickSize": -5}},
        "y": {"field": "fp", "type": "quantitative", "scale": {"domain": [1000, 1800], "range": [236, 27], "nice": false, "zero": false},
              "axis": {"orient": "right", "offset": -710, "values": [1000, 1200, 1400, 1600, 1800], "labels": false, "title": null, "tickSize": -5}}
      }
    }
  ],
  "resolve": {"scale": {"x": "independent", "y": "independent"}, "axis": {"x": "independent", "y": "independent"}},
  "config": {
    "font": "DejaVu Sans",
    "view": {"stroke": "black", "strokeWidth": 1.5},
    "axis": {"grid": false, "domain": false, "tickColor": "black", "tickWidth": 1.2, "labelColor": "black", "titleColor": "black", "titleFontWeight": "normal", "labelFont": "DejaVu Sans", "titleFont": "DejaVu Sans", "labelOverlap": false, "labelFlush": false, "labelBound": false}
  }
}
